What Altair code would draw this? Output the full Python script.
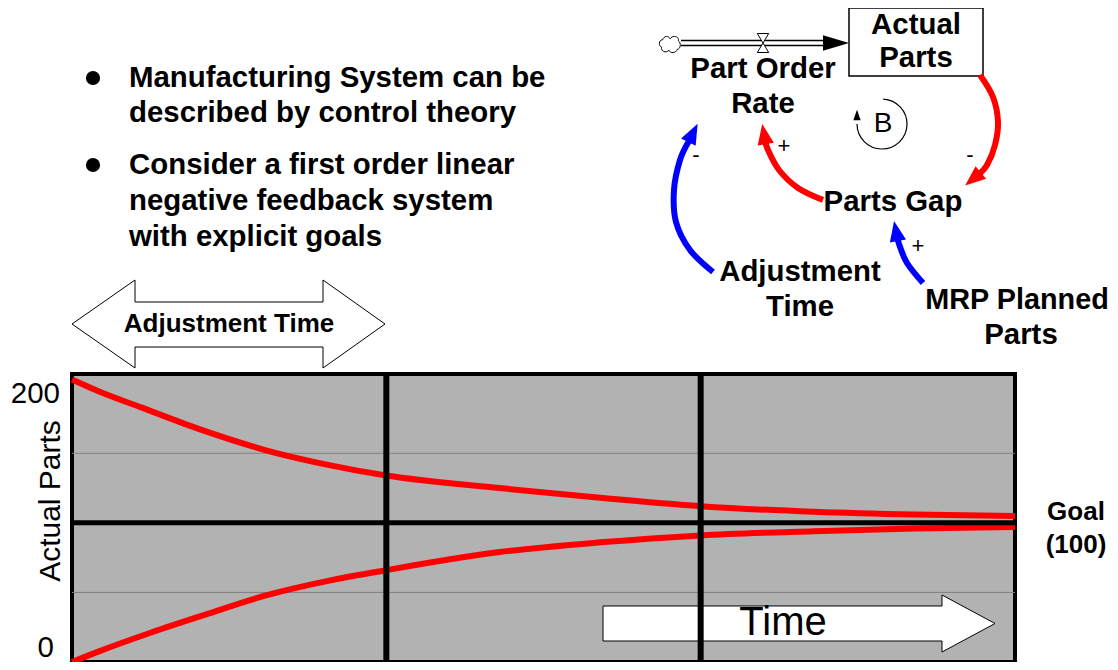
import altair as alt
import pandas as pd

# ---------------- data ----------------
t_upper = [0, 0.09, 0.22, 0.41, 0.62, 0.83, 1.0, 1.36, 1.68, 2.0, 2.36, 2.68, 3.0]
v_upper = [203, 194, 183, 167, 152, 141, 134, 125, 118, 112, 108, 106, 105]
t_lower = [0, 0.09, 0.25, 0.41, 0.62, 0.83, 1.0, 1.36, 1.68, 2.0, 2.36, 2.68, 3.0]
v_lower = [0, 8, 21, 33, 48, 59, 66, 79, 86, 91, 94, 96, 97]
goal_value = [100]
minor_grid = [50, 150]
time_dividers = [1, 2]
y_tick_labels = ["200", "0"]

bullets = [
    ["Manufacturing System can be", "described by control theory"],
    ["Consider a first order linear", "negative feedback system", "with explicit goals"],
]

# ---------------- layout (page pixel positions) ----------------
OX, OY = 72, 374          # plot-area origin on the page
W, H = 943, 288
X_DOM, Y_DOM = [0, 3], [0, 207]
FONT = "Liberation Sans"
BOLD = 29.4

def P(x, y):
    return x - OX, y - OY

def pix(points, **extra):
    rows = []
    for i, (x, y) in enumerate(points):
        a, b = P(x, y)
        r = {"i": i, "x": a, "y": b}
        r.update(extra)
        rows.append(r)
    return rows

XN = lambda f="x": alt.X(f"{f}:Q", scale=None, axis=None)
YN = lambda f="y": alt.Y(f"{f}:Q", scale=None, axis=None, stack=None)

def one_point(x, y):
    a, b = P(x, y)
    return pd.DataFrame([{"x": a, "y": b}])

def shape_path(points, cx, cy, half):
    segs = []
    for k, (x, y) in enumerate(points):
        segs.append(("M" if k == 0 else "L") + f" {(x - cx) / half:.4f} {(y - cy) / half:.4f}")
    return " ".join(segs) + " Z"

# ---------------- main data layers ----------------
curves = pd.DataFrame(
    [{"t": t, "v": v, "s": "above"} for t, v in zip(t_upper, v_upper)]
    + [{"t": t, "v": v, "s": "below"} for t, v in zip(t_lower, v_lower)]
)
xs = alt.Scale(domain=X_DOM)
ys = alt.Scale(domain=Y_DOM)

grid_layer = alt.Chart(pd.DataFrame({"g": minor_grid})).mark_rule(
    color="#808080", strokeWidth=1
).encode(y=alt.Y("g:Q", scale=ys, axis=None))

goal_layer = alt.Chart(pd.DataFrame({"g": goal_value})).mark_rule(
    color="black", strokeWidth=5
).encode(y=alt.Y("g:Q", scale=ys, axis=None))

curve_layer = alt.Chart(curves).mark_line(
    color="#ff0000", strokeWidth=6, interpolate="monotone"
).encode(
    x=alt.X("t:Q", scale=xs, axis=None),
    y=alt.Y("v:Q", scale=ys, axis=None),
    detail="s:N",
)

div_layer = alt.Chart(pd.DataFrame({"d": time_dividers})).mark_rule(
    color="black", strokeWidth=6
).encode(x=alt.X("d:Q", scale=xs, axis=None))

# ---------------- Time arrow (inside plot) ----------------
time_pts = [(603, 606), (942, 606), (942, 595), (995, 623.5), (942, 652),
            (942, 641), (603, 641)]
time_cx, time_cy, time_half = 799, 623.5, 196
time_arrow = alt.Chart(one_point(time_cx, time_cy)).mark_point(
    shape=shape_path(time_pts, time_cx, time_cy, time_half),
    fill="white", stroke="black", strokeWidth=1, size=(2 * time_half) ** 2, opacity=1,
    fillOpacity=1,
).encode(x=XN(), y=YN())

# ---------------- Adjustment Time double arrow ----------------
adj_pts = [(72, 324), (135, 280), (135, 302), (323, 302), (323, 280), (385, 324),
           (323, 368), (323, 347), (135, 347), (135, 368), (72, 324)]
adj_outline = alt.Chart(pd.DataFrame(pix(adj_pts))).mark_line(
    color="black", strokeWidth=1
).encode(x=XN(), y=YN(), order="i:O")

# ---------------- causal loop diagram ----------------
box = pd.DataFrame([{"x": P(849, 8)[0], "y": P(849, 8)[1], "x2": P(983, 76)[0], "y2": P(983, 76)[1]}])
box_layer = alt.Chart(box).mark_rect(fill="white", stroke="black", strokeWidth=1.5).encode(
    x=XN(), y=YN(), x2="x2:Q", y2="y2:Q"
)

pipe = pd.DataFrame([
    {"x": P(681, 0)[0], "x2": P(826, 0)[0], "y": P(0, 40.5)[1]},
    {"x": P(681, 0)[0], "x2": P(826, 0)[0], "y": P(0, 45.5)[1]},
])
pipe_layer = alt.Chart(pipe).mark_rule(color="black", strokeWidth=1.5).encode(
    x=XN(), x2="x2:Q", y=YN()
)

flow_head = alt.Chart(one_point(836, 43)).mark_point(
    shape="M -1 -0.6 L 1 0 L -1 0.6 Z", filled=True, color="black", size=676, opacity=1
).encode(x=XN(), y=YN())

valve = alt.Chart(one_point(763, 43)).mark_point(
    shape="M -0.6 -1 L 0.6 -1 L -0.6 1 L 0.6 1 Z", fill="white", stroke="black",
    strokeWidth=1, size=361, opacity=1
).encode(x=XN(), y=YN())

cloud = alt.Chart(one_point(670, 44)).mark_point(
    shape=("M -0.8 0.3 C -1.1 0.2 -1.1 -0.4 -0.7 -0.4 C -0.6 -0.8 -0.1 -0.8 0 -0.5 "
           "C 0.3 -0.9 0.9 -0.7 0.8 -0.3 C 1.1 -0.1 1.0 0.5 0.7 0.5 "
           "C 0.6 0.9 0.0 0.9 -0.1 0.6 C -0.4 0.9 -0.9 0.7 -0.8 0.3 Z"),
    fill="white", stroke="black", strokeWidth=1, size=441, opacity=1
).encode(x=XN(), y=YN())

links = (
    pix([(980, 75), (993, 97), (998, 122), (995, 145), (987, 165), (977, 176)], id="a", c="#ff0000")
    + pix([(823, 200), (798, 188), (779, 170), (768, 150), (765, 140)], id="b", c="#ff0000")
    + pix([(713, 272), (690, 250), (676, 222), (674, 190), (680, 160), (689, 141)], id="c", c="#0000ff")
    + pix([(923, 283), (907, 263), (899, 244), (897, 236)], id="d", c="#0000ff")
)
link_layer = alt.Chart(pd.DataFrame(links)).mark_line(
    interpolate="cardinal", strokeWidth=6
).encode(
    x=XN(), y=YN(), detail="id:N", order="i:O", color=alt.Color("c:N", scale=None)
)

heads = []
for (x, y, ang, c) in [(973, 179, 230, "#ff0000"), (764, 134, 350, "#ff0000"),
                       (693, 133, 27, "#0000ff"), (896, 231, 349, "#0000ff")]:
    a, b = P(x, y)
    heads.append({"x": a, "y": b, "a": ang, "c": c})
head_layer = alt.Chart(pd.DataFrame(heads)).mark_point(
    shape="M 0 -1 L 0.8 1 L -0.8 1 Z", filled=True, size=420, opacity=1
).encode(
    x=XN(), y=YN(), angle=alt.Angle("a:Q", scale=None), color=alt.Color("c:N", scale=None)
)

loop_arc = alt.Chart(pd.DataFrame({"k": [0]})).mark_arc(
    outerRadius=25, innerRadius=25, fill="transparent", stroke="black", strokeWidth=1.2
).encode(
    x=alt.value(P(882, 124)[0]), y=alt.value(P(882, 124)[1]),
    theta=alt.value(0.05), theta2=alt.value(4.71),
)
loop_head = alt.Chart(one_point(857, 115)).mark_point(
    shape="M 0 -1 L 0.7 1 L -0.7 1 Z", filled=True, color="black", size=110, opacity=1
).encode(x=XN(), y=YN())

# bullets
bullet_dots = pd.DataFrame([{"x": P(93, 78)[0], "y": P(93, 78)[1]},
                            {"x": P(93, 165)[0], "y": P(93, 165)[1]}])
bullet_layer = alt.Chart(bullet_dots).mark_point(
    shape="circle", filled=True, color="black", size=200, opacity=1
).encode(x=XN(), y=YN())

# ---------------- texts ----------------
def texts(rows):
    out = []
    for t, x, y, s in rows:
        a, b = P(x, y)
        out.append({"t": t, "x": a, "y": b, "s": s})
    return pd.DataFrame(out)

bullet_y = [[78, 113], [165, 201, 237]]
bold_left_rows = []
for lines, yy in zip(bullets, bullet_y):
    for line, y in zip(lines, yy):
        bold_left_rows.append((line, 129, y, BOLD))

bold_center_rows = [
    ("Actual", 916, 25, BOLD), ("Parts", 916, 58, BOLD),
    ("Part Order", 763, 69, BOLD), ("Rate", 763, 104, BOLD),
    ("Parts Gap", 893, 202, BOLD),
    ("Adjustment", 800, 272, BOLD), ("Time", 800, 307, BOLD),
    ("MRP Planned", 1017, 300, 28.8), ("Parts", 1021, 335, BOLD),
    ("Adjustment Time", 229, 324, 26),
    ("Goal", 1076, 512, 26), ("(100)", 1076, 545, 26),
]
reg_center_rows = [
    ("B", 883, 124, 28), ("Time", 783, 623, 40),
    ("-", 696, 155, 22), ("+", 784, 146, 22), ("-", 970, 155, 22), ("+", 918, 246, 22),
]
reg_right_rows = [(y_tick_labels[0], 60, 394, 29.5), (y_tick_labels[1], 54, 648, 29.5)]

def text_layer(df, weight, align, angle=0):
    return alt.Chart(df).mark_text(
        font=FONT, fontWeight=weight, align=align, baseline="middle", color="black", angle=angle
    ).encode(x=XN(), y=YN(), text="t:N", size=alt.Size("s:Q", scale=None))

t1 = text_layer(texts(bold_left_rows), "bold", "left")
t2 = text_layer(texts(bold_center_rows), "bold", "center")
t3 = text_layer(texts(reg_center_rows), "normal", "center")
t4 = text_layer(texts(reg_right_rows), "normal", "right")
t5 = text_layer(texts([("Actual Parts", 51, 501, 30)]), "normal", "center", angle=270)

chart = alt.layer(
    grid_layer, time_arrow, curve_layer, goal_layer, div_layer,
    adj_outline, box_layer, pipe_layer, flow_head, valve, cloud,
    link_layer, head_layer, loop_arc, loop_head, bullet_layer,
    t1, t2, t3, t4, t5,
).resolve_scale(x="independent", y="independent").properties(
    width=W, height=H,
    autosize=alt.AutoSizeParams(type="none"),
    padding={"left": OX - 8, "top": OY - 8, "right": 1102 - (OX - 8) - W, "bottom": 0},
    background="white",
).configure_view(
    fill="#b2b2b2", stroke="black", strokeWidth=4
)

chart.save("out.html", embed_options={"renderer": "svg", "actions": False})
